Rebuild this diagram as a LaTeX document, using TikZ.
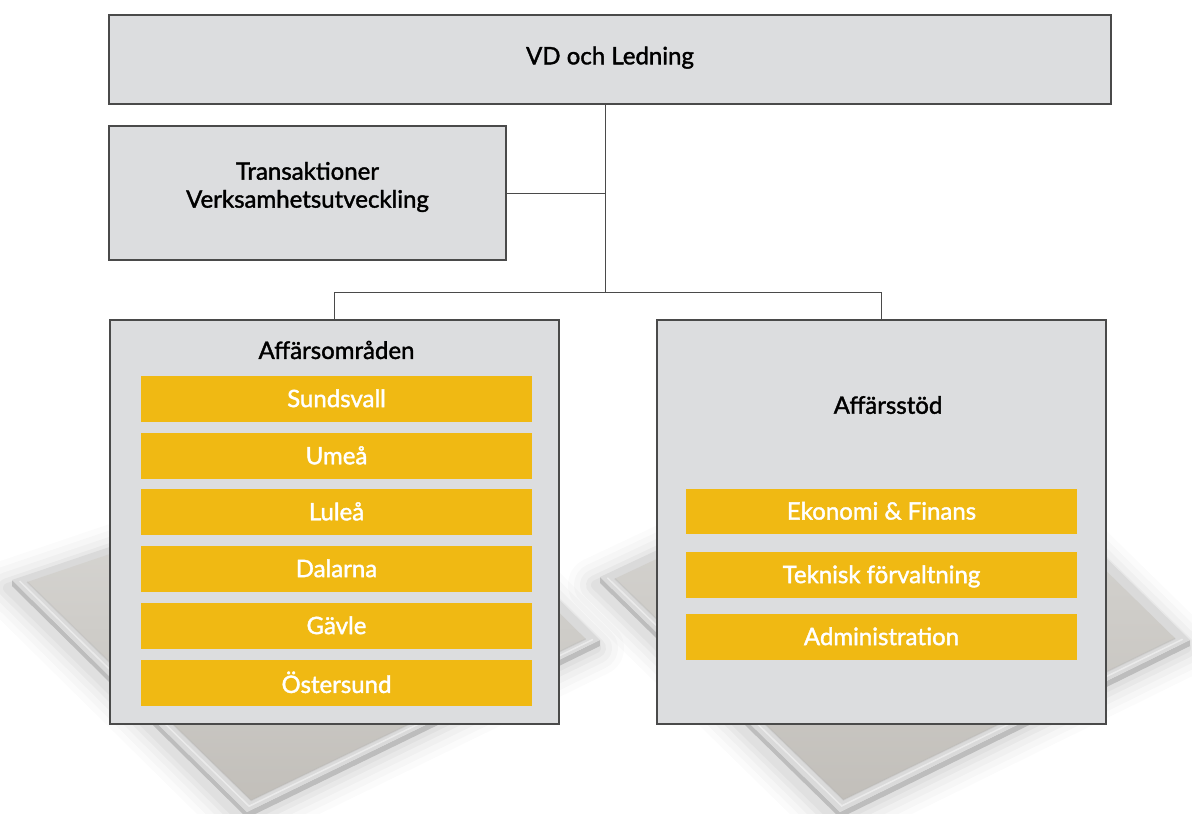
\documentclass[tikz,border=0pt]{standalone}
\usepackage{fontspec}
\setmainfont{Lato}[FakeBold=1.6]
\usetikzlibrary{calc}
\definecolor{boxgray}{HTML}{DCDDDF}
\definecolor{boxline}{HTML}{4A4A4A}
\definecolor{unitgold}{HTML}{F0B913}
\definecolor{platerim}{HTML}{DADADA}
\definecolor{plateside}{HTML}{BDBDBD}
\definecolor{facelight}{HTML}{DBDAD7}
\definecolor{facedark}{HTML}{C2BFBA}

% a tilted stone tile with a soft shadow; corners: left, bottom, right, top
\newcommand{\drawtile}[4]{%
  \foreach \w/\o in {56/0.015,44/0.02,32/0.025,20/0.03,10/0.035}{
    \draw[black, line width=\w pt, opacity=\o, line join=round]
      ($(#1)+(-4,8)$) -- ($(#2)+(-4,8)$) -- ($(#3)+(-4,8)$) -- ($(#4)+(-4,8)$) -- cycle;}
  \fill[plateside] ($(#1)+(0,6)$) -- ($(#2)+(0,6)$) -- ($(#3)+(0,6)$)
    -- (#3) -- (#2) -- (#1) -- cycle;
  \fill[platerim] (#1) -- (#2) -- (#3) -- (#4) -- cycle;
  \coordinate (tc) at ($0.25*(#1)+0.25*(#2)+0.25*(#3)+0.25*(#4)$);
  \shade[top color=facelight, bottom color=facedark]
    ($(#1)!0.05!(tc)$) -- ($(#2)!0.06!(tc)$) -- ($(#3)!0.05!(tc)$) -- ($(#4)!0.05!(tc)$) -- cycle;
  \draw[gray!60, line width=1.5pt, opacity=0.3]
    ($(#1)!0.05!(tc)$) -- ($(#2)!0.06!(tc)$) -- ($(#3)!0.05!(tc)$);
  \draw[white, line width=1.5pt, opacity=0.45]
    ($(#1)!0.025!(tc)$) -- ($(#2)!0.03!(tc)$) -- ($(#3)!0.025!(tc)$);
}

\begin{document}
\begin{tikzpicture}[x=1pt, y=-1pt,
  box/.style={draw=boxline, line width=1.2pt, fill=boxgray, inner sep=0pt,
    align=center, font=\fontsize{24}{28}\selectfont},
  title/.style={inner sep=0pt, align=center, font=\fontsize{24}{28}\selectfont},
  unit/.style={fill=unitgold, text=white, minimum width=391pt, minimum height=45.5pt,
    inner sep=0pt, text depth=1.5pt, font=\fontsize{24}{28}\selectfont},
  link/.style={draw=boxline, line width=1pt}]

\useasboundingbox (0,0) rectangle (1192,814);

% background tiles
\drawtile{12,580}{247,812}{600,640}{405,447}
\drawtile{600,577}{840,812}{1190,640}{955,410}

% management boxes
\node[box, minimum width=1002pt, minimum height=89pt, text depth=8pt] (vd) at (610,59.5) {VD och Ledning};
\node[box, minimum width=397pt, minimum height=134pt] (trans) at (307.5,193) {};
\node[title] (transtext) at (307.5,187) {Transaktioner\\Verksamhetsutveckling};

% business areas and business support
\node[box, minimum width=449pt, minimum height=404pt] (areas) at (334.5,522) {};
\node[box, minimum width=449pt, minimum height=404pt] (support) at (881.5,522) {};

\node[title] (areastitle) at (336.5,350) {Affärsområden};
\node[title] (supporttitle) at (888,405) {Affärsstöd};

\node[unit] (u1) at (336.5,399) {Sundsvall};
\node[unit] (u2) at (336.5,456) {Umeå};
\node[unit] (u3) at (336.5,512) {Luleå};
\node[unit] (u4) at (336.5,569) {Dalarna};
\node[unit] (u5) at (336.5,626) {Gävle};
\node[unit] (u6) at (336.5,683) {Östersund};

\node[unit] (s1) at (881.5,511.5) {Ekonomi \& Finans};
\node[unit] (s2) at (881.5,575) {Teknisk förvaltning};
\node[unit] (s3) at (881.5,637) {Administration};

% connectors
\coordinate (spine) at (605,292.5);
\draw[link] (vd.south -| spine) -- (spine);
\draw[link] (trans.east) -- (trans.east -| spine);
\draw[link] (areas.north) -- (areas.north |- spine) -- (support.north |- spine) -- (support.north);

\end{tikzpicture}
\end{document}
